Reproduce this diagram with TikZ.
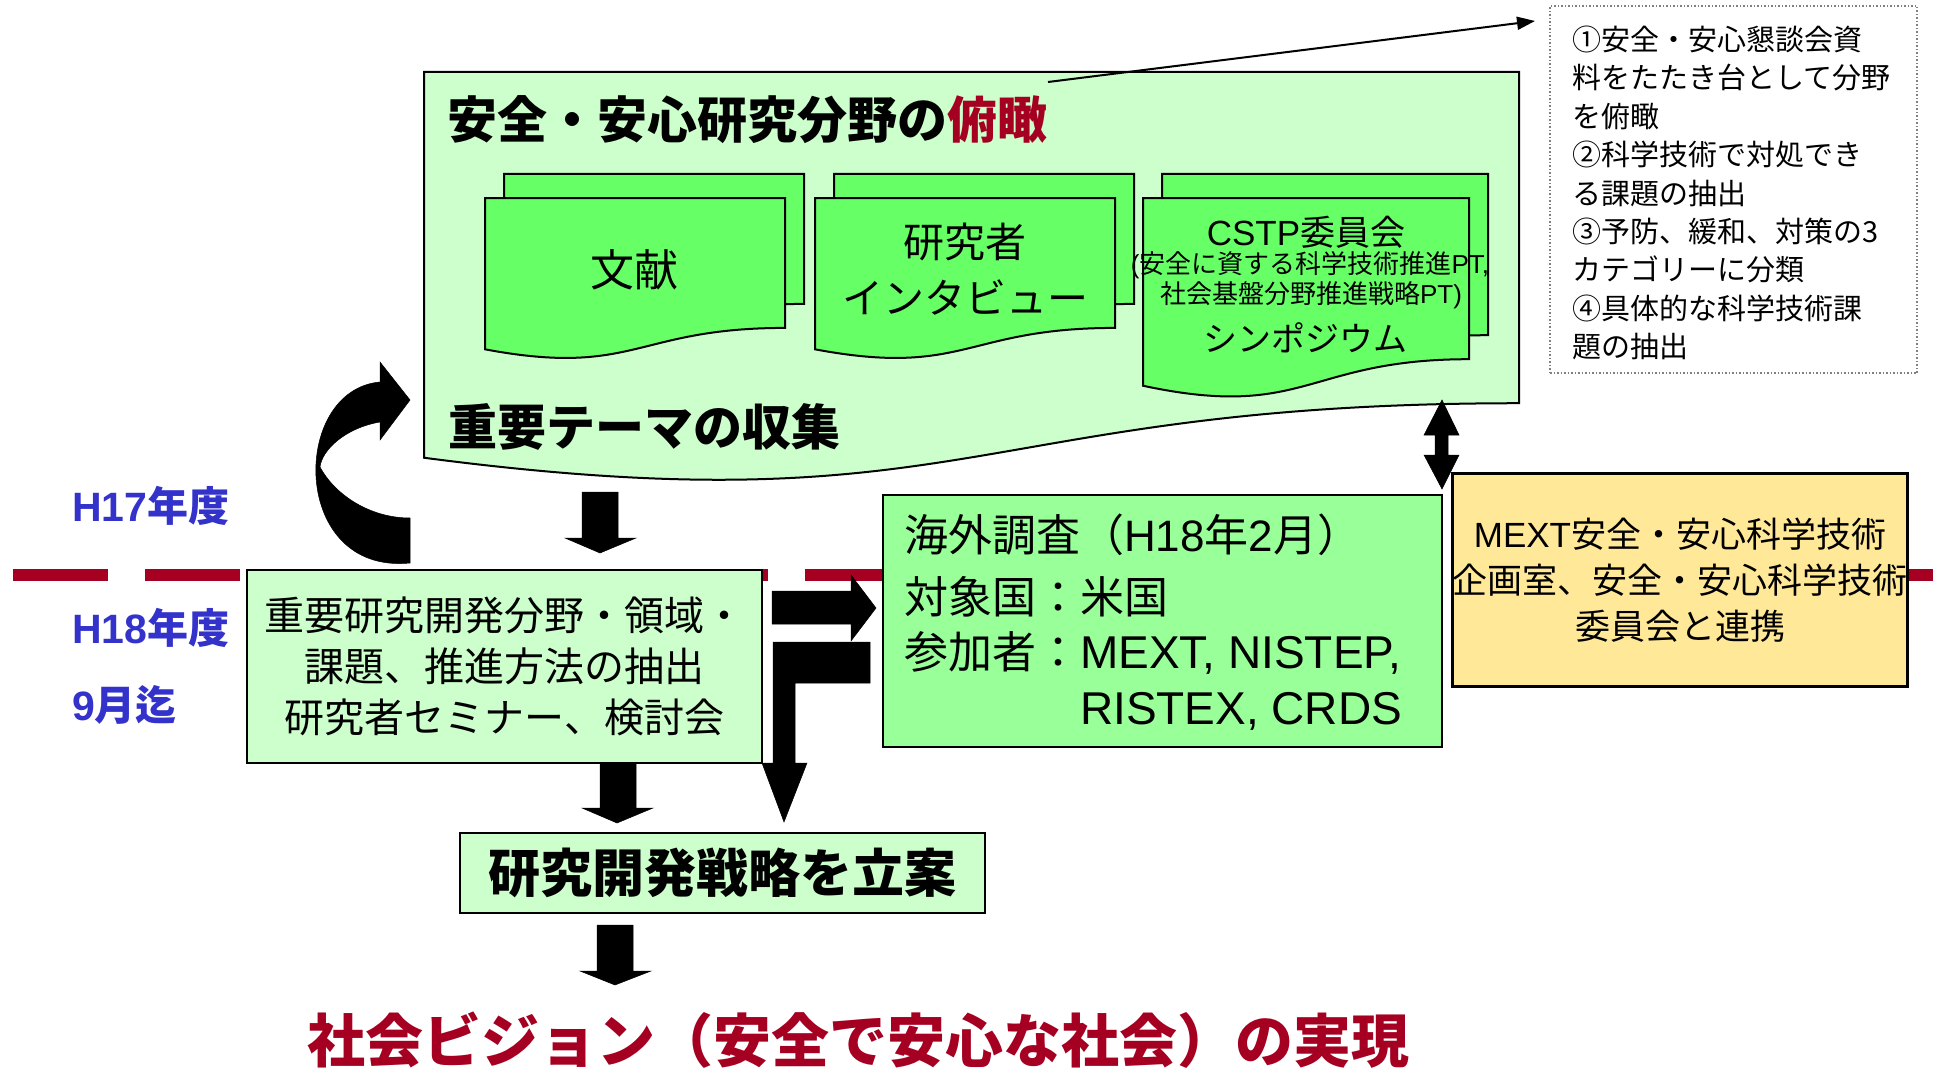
\documentclass[tikz,border=0pt]{standalone}
\usepackage{fontspec}
\setmainfont{Noto Sans CJK JP}
\newfontfamily\lat{Liberation Sans}
\usetikzlibrary{arrows.meta}
\definecolor{lgreen}{HTML}{CCFFCC}
\definecolor{dgreen}{HTML}{66FF66}
\definecolor{mgreen}{HTML}{99FF99}
\definecolor{lyellow}{HTML}{FFE999}
\definecolor{dred}{HTML}{A50021}
\definecolor{hblue}{HTML}{3333CC}
\newcommand\fsz[2]{\fontsize{#1pt}{#2pt}\selectfont}
\newcommand\docshape[5]{%
  \draw[#5] (#1,#2) -- ({#1+#3},#2) -- ({#1+#3},{#2+0.802*#4})
    .. controls ({#1+0.5*#3},{#2+0.802*#4}) and ({#1+0.5*#3},{#2+1.1075*#4}) .. (#1,{#2+0.934*#4}) -- cycle;}
\begin{document}
\begin{tikzpicture}[x=1pt,y=-1pt,
  boxline/.style={draw=black, line width=2pt},
  txt/.style={inner sep=0pt, outer sep=0pt},
  blockarrow/.style={fill=black, draw=black, line width=0.5pt, line join=miter},
  docfill/.style={draw=black, line width=2pt, fill=dgreen},
  notebox/.style={draw=gray, line width=1.5pt, dash pattern=on 1.5pt off 2pt}]
\useasboundingbox[fill=white] (0,0) rectangle (1939,1070);

% dashed fiscal-year line
\coordinate (dl) at (13,575);
\coordinate (dr) at (1933,575);
\draw[dred, line width=12pt, dash pattern=on 95pt off 37pt] (dl) -- (dr);

% big document shape
\docshape{424}{72}{1095}{413}{boxline, fill=lgreen}

% three stacked documents
\docshape{504}{174}{300}{162}{docfill}
\docshape{485}{198}{300}{162}{docfill}
\docshape{834}{174}{300}{162}{docfill}
\docshape{815}{198}{300}{162}{docfill}
\docshape{1162}{174}{326}{201}{docfill}
\docshape{1143}{198}{326}{201}{docfill}

\node[txt, anchor=west, font=\bfseries\fsz{50}{60}] (title) at (447,120) {安全・安心研究分野の\textcolor{dred}{俯瞰}};
\node[txt, anchor=west, font=\bfseries\fsz{49}{59}] (collect) at (448,427) {重要テーマの収集};

\node[txt, font=\fsz{44}{52}] (bunken) at (634,270) {文献};
\node[txt, align=center, font=\fsz{41}{56}] (kenkyu) at (965,269) {研究者\\インタビュー};
\node[txt, font=\fsz{35}{42}] (cstp1) at (1306,232) {{\lat CSTP}委員会};
\node[txt, font=\fsz{26}{31}] (cstp2) at (1310,265) {{\lat (}安全に資する科学技術推進{\lat PT,}};
\node[txt, font=\fsz{26}{31}] (cstp3) at (1311,295) {社会基盤分野推進戦略{\lat PT)}};
\node[txt, font=\fsz{34}{40}] (cstp4) at (1305,338) {シンポジウム};

% notes box
\node[notebox, minimum width=367pt, minimum height=367pt, inner sep=0pt] (notesbox) at (1733.5,189.5) {};
\node[txt, anchor=west, align=left, font=\fsz{29}{38.4}] (notes) at (1572,193) {①安全・安心懇談会資\\料をたたき台として分野\\を俯瞰\\②科学技術で対処でき\\る課題の抽出\\③予防、緩和、対策の3\\カテゴリーに分類\\④具体的な科学技術課\\題の抽出};

\coordinate (ls) at (1048,82);
\coordinate (le) at (1535,21);
\draw[line width=2pt, -{Triangle[length=18pt,width=13pt]}] (ls) -- (le);

% year labels
\node[txt, anchor=west, text=hblue, font=\bfseries\fsz{41}{48}] (h17) at (72,506) {{\lat H17}年度};
\node[txt, anchor=west, text=hblue, font=\bfseries\fsz{41}{48}] (h18) at (72,628) {{\lat H18}年度};
\node[txt, anchor=west, text=hblue, font=\bfseries\fsz{41}{48}] (sep) at (72,705) {{\lat 9}月迄};

% box B
\node[boxline, fill=lgreen, minimum width=515pt, minimum height=193pt, inner sep=0pt, align=center, font=\fsz{40}{51}] (boxB) at (504.5,666.5) {重要研究開発分野・領域・\\課題、推進方法の抽出\\研究者セミナー、検討会};

% overseas survey box
\node[boxline, fill=mgreen, minimum width=559pt, minimum height=252pt, inner sep=0pt] (kaigai) at (1162.5,621) {};
\node[txt, anchor=west, font=\fsz{44}{52}] (k1) at (904,535) {海外調査（{\lat H18}年{\lat 2}月）};
\node[txt, anchor=west, font=\fsz{44}{52}] (k2) at (904,597) {対象国：米国};
\node[txt, anchor=west, font=\fsz{44}{52}] (k3a) at (904,652) {参加者：};
\node[txt, anchor=base west, font=\lat\fsz{46}{52}] (k3b) at (k3a.base east) {MEXT, NISTEP,};
\coordinate (k4ref) at (0,724);
\node[txt, anchor=base west, font=\lat\fsz{46}{52}] (k4) at (k3b.base west |- k4ref) {RISTEX, CRDS};

% yellow box
\node[draw=black, line width=2.5pt, fill=lyellow, minimum width=454pt, minimum height=213pt, inner sep=0pt, align=center, font=\fsz{35}{46}] (yellow) at (1680,580) {{\lat MEXT}安全・安心科学技術\\企画室、安全・安心科学技術\\委員会と連携};

% strategy box
\node[draw=black, line width=2.5pt, fill=lgreen, minimum width=525pt, minimum height=80pt, inner sep=0pt, font=\bfseries\fsz{52}{60}] (strategy) at (722.5,873) {研究開発戦略を立案};

% vision text
\node[txt, text=dred, font=\bfseries\fsz{58}{66}] (vision) at (858,1040) {社会ビジョン（安全で安心な社会）の実現};

% block arrows
\fill[blockarrow] (582,492) -- (618,492) -- (618,538) -- (636,538) -- (600,553) -- (565,538) -- (582,538) -- cycle;
\fill[blockarrow] (600,763) -- (636,763) -- (636,808) -- (653,808) -- (617,823) -- (582,808) -- (600,808) -- cycle;
\fill[blockarrow] (597,925) -- (633,925) -- (633,971) -- (651,971) -- (615,985) -- (580,971) -- (597,971) -- cycle;
\fill[blockarrow] (772,591) -- (851,591) -- (851,575) -- (876,608) -- (851,641) -- (851,624) -- (772,624) -- cycle;
\fill[blockarrow] (870,642) -- (773,642) -- (773,763) -- (762,763) -- (784,822) -- (807,763) -- (795,763) -- (795,683) -- (870,683) -- cycle;
\fill[blockarrow] (1442,400) -- (1459,435) -- (1448,435) -- (1448,455) -- (1459,455) -- (1442,489) -- (1424,455) -- (1435,455) -- (1435,435) -- (1424,435) -- cycle;

% curved arrow
\fill[blockarrow] (410,563) .. controls (290,575) and (290,390) .. (380,382) -- (380,362) -- (410,400) -- (380,440) -- (380,422)
  .. controls (345,428) and (322,450) .. (320,467)
  .. controls (335,495) and (370,518) .. (410,518) -- cycle;
\end{tikzpicture}
\end{document}
